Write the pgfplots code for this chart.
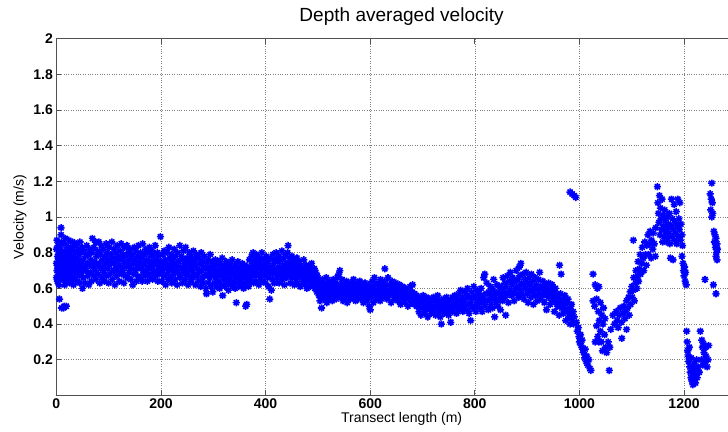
\documentclass[border=0pt]{standalone}
\usepackage{fontspec}
\setmainfont{Liberation Sans}
\usepackage{pgfplots}
\pgfplotsset{compat=1.18}

% MATLAB-style '*' marker: a plus and a cross on top of each other
\pgfdeclareplotmark{mstar}{%
  \pgfpathmoveto{\pgfqpoint{-\pgfplotmarksize}{0pt}}%
  \pgfpathlineto{\pgfqpoint{\pgfplotmarksize}{0pt}}%
  \pgfpathmoveto{\pgfqpoint{0pt}{-\pgfplotmarksize}}%
  \pgfpathlineto{\pgfqpoint{0pt}{\pgfplotmarksize}}%
  \pgfpathmoveto{\pgfqpoint{-0.7\pgfplotmarksize}{-0.7\pgfplotmarksize}}%
  \pgfpathlineto{\pgfqpoint{0.7\pgfplotmarksize}{0.7\pgfplotmarksize}}%
  \pgfpathmoveto{\pgfqpoint{-0.7\pgfplotmarksize}{0.7\pgfplotmarksize}}%
  \pgfpathlineto{\pgfqpoint{0.7\pgfplotmarksize}{-0.7\pgfplotmarksize}}%
  \pgfusepathqstroke}

\definecolor{axgray}{HTML}{505050}

\begin{document}
\begin{tikzpicture}
\begin{axis}[
  scale only axis,
  width=689pt, height=356pt,
  xmin=0, xmax=1320,
  ymin=0, ymax=2,
  xtick={0,200,...,1200},
  ytick={0.2,0.4,0.6,0.8,1,1.2,1.4,1.6,1.8,2},
  grid=major,
  grid style={dotted, gray, line width=0.6pt},
  axis line style={axgray, line width=0.9pt},
  tick style={axgray, line width=0.9pt},
  major tick length=5pt,
  tick align=inside,
  /pgf/number format/assume math mode=true,
  /pgf/number format/1000 sep={},
  ticklabel style={font=\fontsize{14}{16}\selectfont\bfseries},
  title={Depth averaged velocity},
  title style={font=\fontsize{19}{22}\selectfont, yshift=4pt},
  xlabel={Transect length (m)},
  ylabel={Velocity (m/s)},
  label style={font=\fontsize{14}{16}\selectfont},
  xlabel style={yshift=3pt},
  ylabel style={yshift=0pt},
]
\addplot[only marks, mark=mstar, mark size=3.6pt, color=blue,
  mark options={line width=1.55pt}] coordinates {
(0,0.66)(0,0.74)(0,0.82)(1,0.70)(1,0.87)(2,0.64)(2,0.78)(3,0.72)(3,0.84)(4,0.68)(4,0.76)(5,0.62)(5,0.80)(6,0.73)(6,0.54)(7,0.66)(7,0.83)(8,0.75)(8,0.70)(9,0.79)(9,0.94)(9,0.90)(10,0.86)(10,0.72)(10,0.49)(11,0.68)(12,0.77)(12,0.81)(13,0.65)(13,0.74)(14,0.49)(14,0.85)(15,0.70)(15,0.50)(16,0.78)(16,0.62)(17,0.73)(17,0.88)(18,0.67)(18,0.80)(19,0.50)(19,0.75)
(20,0.71)(20,0.84)(21,0.64)(21,0.77)(22,0.69)(22,0.82)(23,0.74)(24,0.66)(24,0.87)(25,0.72)(25,0.79)(26,0.63)(27,0.76)(27,0.83)(28,0.70)(29,0.68)(29,0.81)(30,0.74)(31,0.65)(31,0.86)(32,0.78)(33,0.71)(33,0.62)(34,0.84)(35,0.69)(35,0.76)(36,0.80)(37,0.66)(37,0.73)(38,0.85)(39,0.70)(40,0.77)(40,0.64)(41,0.82)(42,0.72)(43,0.68)(43,0.79)(44,0.75)(45,0.63)(45,0.86)(46,0.71)(47,0.80)(48,0.67)(48,0.74)(49,0.83)(50,0.70)(50,0.60)
(51,0.76)(52,0.66)(53,0.81)(54,0.72)(55,0.63)(56,0.78)(57,0.70)(58,0.84)(59,0.74)(60,0.67)(61,0.79)(62,0.62)(63,0.73)(64,0.82)(65,0.69)(66,0.76)(67,0.64)(68,0.80)(69,0.88)(70,0.72)(71,0.67)(72,0.83)(73,0.75)(74,0.70)(75,0.86)(76,0.65)(77,0.78)(78,0.73)(79,0.81)(80,0.68)(81,0.86)(82,0.74)(83,0.63)(84,0.79)(85,0.71)(86,0.84)(87,0.66)(88,0.76)(89,0.72)(90,0.82)(91,0.69)(92,0.64)(93,0.78)(94,0.74)(95,0.85)(96,0.67)(97,0.80)(98,0.71)(99,0.76)(100,0.63)
(101,0.83)(102,0.73)(103,0.68)(104,0.79)(105,0.75)(106,0.86)(107,0.65)(108,0.77)(109,0.70)(110,0.82)(111,0.74)(112,0.62)(113,0.80)(114,0.71)(115,0.67)(116,0.84)(117,0.76)(118,0.69)(119,0.78)(120,0.73)(121,0.64)(122,0.81)(123,0.72)(124,0.85)(125,0.68)(126,0.76)(127,0.70)(128,0.79)(129,0.63)(130,0.83)(131,0.74)(132,0.67)(133,0.78)(134,0.72)(135,0.84)(136,0.66)(137,0.75)(138,0.80)(139,0.69)(140,0.73)(141,0.82)(142,0.65)(143,0.77)(144,0.71)(145,0.79)(146,0.62)(147,0.74)(148,0.68)(149,0.83)(150,0.76)
(151,0.70)(152,0.81)(153,0.64)(154,0.73)(155,0.78)(156,0.67)(157,0.84)(158,0.72)(159,0.75)(160,0.66)(161,0.80)(162,0.71)(163,0.77)(164,0.64)(165,0.85)(166,0.73)(167,0.69)(168,0.79)(169,0.74)(170,0.67)(171,0.82)(172,0.70)(173,0.76)(174,0.64)(175,0.80)(176,0.72)(177,0.68)(178,0.83)(179,0.74)(180,0.66)(181,0.78)(182,0.71)(183,0.81)(184,0.65)(185,0.75)(186,0.69)(187,0.79)(188,0.73)(189,0.84)(190,0.67)(191,0.76)(192,0.70)(193,0.80)(194,0.64)(195,0.74)(196,0.78)(197,0.68)(198,0.72)(199,0.89)(200,0.75)
(201,0.70)(202,0.64)(203,0.79)(204,0.73)(205,0.67)(206,0.81)(207,0.71)(208,0.76)(209,0.62)(210,0.74)(211,0.68)(212,0.80)(213,0.72)(214,0.65)(215,0.83)(216,0.70)(217,0.77)(218,0.66)(219,0.74)(220,0.79)(221,0.63)(222,0.71)(223,0.76)(224,0.68)(225,0.82)(226,0.73)(227,0.65)(228,0.78)(229,0.70)(230,0.74)(231,0.62)(232,0.80)(233,0.69)(234,0.75)(235,0.66)(236,0.84)(237,0.72)(238,0.67)(239,0.78)(240,0.71)(241,0.63)(242,0.76)(243,0.81)(244,0.69)(245,0.74)(246,0.65)(247,0.83)(248,0.72)(249,0.68)(250,0.77)
(251,0.70)(252,0.62)(253,0.75)(254,0.80)(255,0.67)(256,0.73)(257,0.64)(258,0.78)(259,0.70)(260,0.75)(261,0.66)(262,0.81)(263,0.72)(264,0.68)(265,0.76)(266,0.62)(267,0.73)(268,0.79)(269,0.67)(270,0.71)(272,0.64)(273,0.77)(274,0.69)(275,0.74)(276,0.61)(277,0.80)(278,0.70)(279,0.66)(280,0.75)(281,0.63)(282,0.72)(283,0.78)(284,0.67)(285,0.71)(286,0.60)(287,0.57)(288,0.74)(289,0.68)(290,0.76)(291,0.63)(292,0.70)(293,0.66)(294,0.79)(295,0.72)(296,0.61)(297,0.69)(298,0.75)(299,0.58)(300,0.67)
(301,0.72)(302,0.63)(303,0.70)(304,0.76)(305,0.66)(306,0.61)(307,0.73)(308,0.68)(309,0.75)(310,0.64)(311,0.70)(312,0.60)(313,0.74)(314,0.67)(315,0.71)(316,0.62)(317,0.77)(318,0.56)(319,0.69)(320,0.65)(321,0.73)(322,0.61)(323,0.70)(324,0.66)(325,0.75)(326,0.63)(327,0.68)(328,0.72)(329,0.59)(330,0.70)(331,0.65)(332,0.74)(333,0.62)(334,0.69)(335,0.67)(336,0.76)(337,0.61)(338,0.71)(339,0.64)(340,0.68)(341,0.73)(342,0.60)(343,0.66)(344,0.52)(345,0.70)(346,0.63)(347,0.75)(348,0.67)(349,0.61)(350,0.72)
(352,0.65)(353,0.69)(354,0.62)(355,0.74)(356,0.66)(357,0.70)(358,0.60)(359,0.67)(360,0.73)(361,0.63)(362,0.50)(363,0.69)(364,0.51)(365,0.65)(366,0.72)(367,0.61)(368,0.68)(369,0.76)(370,0.64)
(371,0.71)(372,0.66)(373,0.78)(374,0.69)(375,0.74)(376,0.80)(377,0.63)(378,0.72)(379,0.67)(380,0.76)(381,0.70)(382,0.64)(383,0.79)(384,0.73)(385,0.68)(386,0.75)(387,0.62)(388,0.71)(389,0.77)(390,0.66)(391,0.73)(392,0.69)(393,0.80)(394,0.64)(395,0.72)(396,0.76)(397,0.67)(398,0.71)(399,0.74)(400,0.63)
(401,0.78)(402,0.69)(403,0.73)(404,0.66)(405,0.75)(406,0.61)(407,0.70)(408,0.54)(409,0.77)(410,0.68)(411,0.59)(412,0.72)(413,0.65)(414,0.79)(415,0.70)(416,0.74)(417,0.63)(418,0.76)(419,0.68)(420,0.80)(421,0.71)(422,0.66)(423,0.75)(424,0.69)(425,0.78)(426,0.63)(427,0.72)(428,0.67)(429,0.76)(430,0.70)(431,0.81)(432,0.65)(433,0.73)(434,0.68)(435,0.77)(436,0.62)(437,0.71)(438,0.79)(439,0.66)(440,0.74)(441,0.69)(442,0.80)(443,0.84)(444,0.72)(445,0.67)(446,0.77)(447,0.63)(448,0.74)(449,0.70)(450,0.78)
(451,0.66)(452,0.73)(453,0.68)(454,0.76)(455,0.62)(456,0.71)(457,0.74)(458,0.65)(459,0.69)(460,0.77)(461,0.63)(462,0.72)(463,0.67)(464,0.70)(465,0.75)(466,0.61)(467,0.68)(468,0.73)(469,0.66)(470,0.70)(472,0.64)(473,0.76)(474,0.68)(475,0.62)(476,0.71)(477,0.66)(478,0.73)(479,0.60)(480,0.69)(482,0.64)(483,0.72)(484,0.67)(485,0.61)(486,0.70)(487,0.65)(488,0.74)(489,0.62)(490,0.68)(492,0.64)(493,0.71)(494,0.60)(495,0.66)(496,0.69)(497,0.63)(498,0.58)(499,0.67)(500,0.61)
(501,0.64)(502,0.56)(503,0.60)(504,0.53)(505,0.62)(506,0.58)(507,0.49)(508,0.65)(509,0.57)(510,0.61)(511,0.54)(512,0.59)(513,0.63)(514,0.55)(515,0.60)(516,0.66)(517,0.52)(518,0.58)(519,0.62)(520,0.56)(521,0.60)(522,0.64)(523,0.54)(524,0.59)(525,0.57)(526,0.62)(527,0.53)(528,0.60)(529,0.65)(530,0.58)(531,0.55)(532,0.61)(533,0.57)(534,0.63)(535,0.54)(536,0.59)(537,0.66)(538,0.56)(539,0.61)(540,0.68)(541,0.57)(542,0.70)(543,0.62)(544,0.55)(545,0.60)(546,0.65)(547,0.57)(548,0.53)(549,0.61)(550,0.58)
(551,0.63)(552,0.55)(553,0.60)(554,0.57)(555,0.64)(556,0.52)(557,0.59)(558,0.62)(559,0.56)(560,0.60)(562,0.54)(563,0.63)(564,0.58)(565,0.61)(566,0.55)(567,0.59)(568,0.65)(569,0.57)(570,0.62)(572,0.53)(573,0.60)(574,0.56)(575,0.63)(576,0.58)(577,0.61)(578,0.54)(579,0.59)(580,0.64)(582,0.57)(583,0.60)(584,0.55)(585,0.62)(586,0.58)(587,0.52)(588,0.61)(589,0.57)(590,0.63)(592,0.55)(593,0.59)(594,0.53)(595,0.60)(596,0.56)(597,0.62)(598,0.50)(599,0.58)(600,0.48)
(601,0.61)(602,0.55)(604,0.64)(605,0.58)(606,0.52)(607,0.60)(608,0.66)(610,0.57)(611,0.62)(612,0.54)(614,0.59)(615,0.63)(616,0.56)(618,0.60)(619,0.53)(620,0.65)(622,0.58)(623,0.62)(624,0.55)(626,0.60)(627,0.64)(628,0.71)(629,0.57)(630,0.61)(632,0.54)(633,0.59)(634,0.66)(636,0.56)(637,0.62)(638,0.58)(640,0.52)(641,0.60)(642,0.64)(644,0.57)(645,0.61)(646,0.54)(648,0.59)(649,0.63)(650,0.56)
(652,0.60)(653,0.53)(654,0.58)(656,0.62)(657,0.55)(658,0.51)(660,0.59)(661,0.56)(662,0.61)(664,0.54)(665,0.58)(666,0.52)(668,0.60)(669,0.55)(670,0.57)(672,0.50)(673,0.59)(674,0.54)(676,0.61)(677,0.56)(678,0.52)(680,0.58)(681,0.62)(682,0.55)(684,0.51)(685,0.57)(686,0.53)(688,0.56)(689,0.50)(690,0.54)
(692,0.52)(693,0.47)(694,0.55)(696,0.50)(697,0.45)(698,0.53)(700,0.49)(701,0.56)(702,0.51)(704,0.46)(705,0.53)(706,0.49)(708,0.55)(709,0.50)(710,0.44)(712,0.52)(713,0.48)(714,0.54)(716,0.50)(717,0.46)(718,0.53)(720,0.49)(721,0.55)(722,0.47)(724,0.51)(725,0.45)(726,0.53)(728,0.49)(729,0.56)(730,0.50)(732,0.47)(733,0.53)(734,0.44)(736,0.40)(737,0.51)(738,0.48)(740,0.54)(741,0.50)(742,0.46)(744,0.52)(745,0.49)(746,0.55)(748,0.47)(749,0.51)(750,0.45)
(752,0.53)(753,0.49)(754,0.41)(756,0.50)(757,0.55)(758,0.47)(760,0.52)(761,0.49)(762,0.56)(764,0.51)(765,0.46)(766,0.54)(768,0.50)(769,0.57)(770,0.48)(772,0.53)(773,0.59)(774,0.50)(776,0.55)(777,0.47)(778,0.52)(780,0.58)(781,0.50)(782,0.54)(784,0.48)(785,0.56)(786,0.60)(788,0.51)(789,0.46)(790,0.55)
(792,0.42)(793,0.52)(794,0.58)(796,0.49)(797,0.55)(798,0.61)(800,0.50)(801,0.56)(802,0.47)(804,0.53)(805,0.59)(806,0.51)(808,0.57)(809,0.49)(810,0.54)(812,0.60)(813,0.52)(814,0.47)(816,0.56)(817,0.66)(818,0.53)(819,0.68)(820,0.50)(822,0.57)(823,0.63)(824,0.53)(826,0.48)(827,0.58)(828,0.54)(830,0.61)(831,0.51)(832,0.56)(834,0.49)(835,0.59)(836,0.65)(837,0.54)(838,0.44)(840,0.57)(841,0.52)(842,0.62)(844,0.50)(845,0.58)(846,0.54)(848,0.61)(849,0.48)(850,0.56)
(852,0.60)(853,0.53)(854,0.66)(856,0.58)(857,0.63)(858,0.55)(859,0.45)(860,0.61)(862,0.67)(863,0.57)(864,0.52)(866,0.64)(867,0.59)(868,0.69)(870,0.56)(871,0.62)(872,0.66)(874,0.58)(875,0.53)(876,0.64)(878,0.60)(879,0.70)(880,0.57)(882,0.65)(883,0.61)(884,0.55)(885,0.72)(886,0.67)(887,0.59)(888,0.74)(889,0.63)(890,0.57)(892,0.68)(893,0.62)(894,0.54)(896,0.65)(897,0.60)(898,0.69)(900,0.57)(901,0.63)(902,0.52)(904,0.66)(905,0.59)
(906,0.62)(907,0.55)(908,0.68)(910,0.58)(911,0.64)(912,0.51)(914,0.60)(915,0.66)(916,0.56)(918,0.62)(919,0.53)(920,0.59)(922,0.65)(923,0.57)(924,0.69)(925,0.61)(926,0.54)(928,0.60)(929,0.56)(930,0.64)(932,0.58)(933,0.52)(934,0.62)(936,0.57)(937,0.48)(938,0.60)(940,0.55)(941,0.63)(942,0.58)(944,0.51)(945,0.60)(946,0.56)(948,0.62)(949,0.53)(950,0.58)
(952,0.47)(953,0.55)(954,0.60)(956,0.52)(957,0.57)(958,0.50)(960,0.55)(961,0.45)(962,0.73)(963,0.52)(964,0.57)(965,0.68)(966,0.49)(968,0.54)(969,0.46)(970,0.51)(972,0.56)(973,0.48)(974,0.42)(976,0.52)(977,0.47)(978,0.54)(980,0.44)(981,0.49)(982,0.40)(984,0.46)(985,0.51)(986,0.43)(988,0.47)(989,0.40)(990,0.44)
(982,1.14)(986,1.13)(990,1.12)(993,1.11)
(994,0.41)(996,0.36)(998,0.38)(999,0.33)(1000,0.30)(1002,0.34)(1003,0.28)(1005,0.31)(1006,0.26)(1008,0.24)(1010,0.21)(1011,0.26)(1013,0.19)(1014,0.22)(1016,0.17)(1018,0.20)(1020,0.15)(1022,0.14)
(1026,0.68)(1030,0.62)(1034,0.60)(1037,0.61)(1026,0.53)(1029,0.50)(1033,0.54)(1036,0.47)(1040,0.52)(1043,0.45)(1038,0.42)(1046,0.49)(1033,0.39)(1040,0.36)(1045,0.40)(1035,0.33)(1042,0.30)(1048,0.34)(1030,0.30)(1037,0.30)(1050,0.27)(1044,0.25)(1055,0.30)(1052,0.24)(1058,0.27)(1057,0.14)(1060,0.37)(1049,0.43)
(1064,0.45)(1067,0.40)(1070,0.47)(1072,0.42)(1074,0.38)(1076,0.45)(1078,0.49)(1080,0.41)(1081,0.32)(1083,0.46)(1085,0.50)(1087,0.43)(1088,0.47)(1090,0.37)(1090,0.53)(1092,0.49)(1094,0.55)(1095,0.45)(1097,0.58)(1098,0.51)(1100,0.61)(1101,0.55)(1103,0.59)(1103,0.87)(1104,0.66)(1105,0.53)(1107,0.63)(1108,0.70)(1110,0.60)(1111,0.67)(1112,0.75)(1113,0.64)(1115,0.71)(1116,0.79)(1117,0.68)(1119,0.74)(1120,0.83)(1122,0.77)(1123,0.70)(1125,0.86)(1126,0.79)(1128,0.73)(1129,0.84)(1131,0.90)(1132,0.79)(1134,0.85)(1135,0.92)(1137,0.77)(1138,0.87)(1140,0.82)(1141,0.91)(1143,0.85)(1145,0.78)(1146,0.94)
(1149,1.17)(1150,1.08)(1151,1.02)(1152,0.97)(1153,1.12)(1154,0.90)(1155,1.05)(1156,0.99)(1157,0.93)(1158,1.10)(1159,0.86)(1160,1.01)(1161,0.95)(1162,0.89)(1163,1.04)(1164,0.98)(1165,0.92)(1166,0.86)(1167,1.00)(1168,0.94)(1169,0.88)(1170,0.96)(1171,0.91)(1172,1.02)(1173,0.85)(1174,0.77)(1175,0.95)(1176,1.10)(1177,0.89)(1178,0.99)(1179,0.76)(1180,0.93)(1181,1.07)(1182,0.87)(1183,0.97)(1184,0.91)(1185,1.03)(1186,0.85)(1187,0.95)(1188,1.10)(1189,0.89)(1190,0.99)(1191,0.93)(1192,1.08)(1193,0.87)(1194,0.96)(1196,0.90)(1197,0.84)
(1196,0.78)(1198,0.74)(1199,0.70)(1200,0.67)(1201,0.72)(1202,0.64)(1204,0.62)(1203,0.69)
(1205,0.36)(1206,0.30)(1207,0.25)(1208,0.22)(1209,0.19)(1210,0.27)(1211,0.16)(1212,0.13)(1213,0.10)(1214,0.21)(1215,0.08)(1216,0.15)(1217,0.06)(1218,0.11)(1219,0.18)(1220,0.09)(1221,0.14)(1222,0.07)(1223,0.12)(1224,0.20)(1225,0.10)(1227,0.16)(1229,0.13)(1231,0.36)(1233,0.20)(1234,0.31)(1235,0.27)(1236,0.17)(1237,0.29)(1238,0.24)(1240,0.19)(1241,0.27)(1242,0.22)(1244,0.16)(1246,0.20)(1247,0.28)
(1240,0.65)(1253,1.19)(1250,1.13)(1252,1.10)(1254,1.08)(1251,1.04)(1255,1.02)(1253,1.00)(1257,0.92)(1259,0.90)(1258,0.86)(1261,0.88)(1260,0.83)(1262,0.80)(1263,0.85)(1261,0.78)(1264,0.82)(1263,0.76)(1256,0.62)(1261,0.57)
};
\coordinate (cropR) at (axis cs:1284,2);
\end{axis}
\coordinate (bbSW) at (current bounding box.south west);
\coordinate (bbNE) at (current bounding box.north east);
\pgfresetboundingbox
\path[use as bounding box] ([xshift=-10pt,yshift=-2pt]bbSW) rectangle ([yshift=4pt]cropR |- bbNE);
\end{tikzpicture}
\end{document}
